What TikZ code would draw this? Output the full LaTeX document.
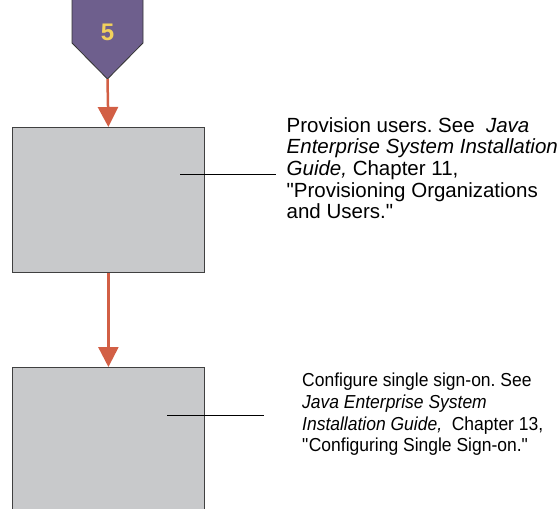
\documentclass[tikz,border=0pt]{standalone}
\usepackage{fontspec}
\setmainfont{Liberation Sans}
\newfontfamily\notecondensed{Liberation Sans}[FakeStretch=0.93,ItalicFeatures={FakeStretch=0.93}]
\usetikzlibrary{arrows.meta}
\definecolor{stepviolet}{HTML}{6E5F8D}
\definecolor{stepgold}{HTML}{F2D15C}
\definecolor{flowred}{HTML}{D25F45}
\definecolor{boxgray}{HTML}{C8C9CB}
\tikzset{
  taskbox/.style={draw=black!75,fill=boxgray,line width=.8pt,minimum width=192pt,anchor=north west},
  flow/.style={flowred,line width=2.5pt,-{Triangle[width=20pt,length=20pt]}},
  leader/.style={black,line width=.8pt},
  note/.style={anchor=north west,inner sep=0pt,align=left},
}
\begin{document}
\begin{tikzpicture}[x=1pt,y=-1pt]
  \useasboundingbox (0,0) rectangle (560,509);
  % step marker
  \draw[fill=stepviolet,draw=black!80,line width=.8pt] (72,-1) -- (143,-1) -- (143,43)
    -- (107.5,79) coordinate (steptip) -- (72,43) -- cycle;
  \node[text=stepgold,font=\fontsize{24}{24}\bfseries\selectfont] (stepno) at (107.5,32) {5};
  % tasks
  \node[taskbox,minimum height=145pt] (provision) at (12,127) {};
  \node[taskbox,minimum height=150pt] (signon) at (12,367) {};
  \draw[flow] (steptip) -- (provision.north);
  \draw[flow] (provision.south) -- (signon.north);
  % notes
  \node[note,font=\fontsize{20.5}{21.7}\selectfont\frenchspacing] (provisionnote) at (286.5,117)
    {Provision users. See~ \textit{Java}\\
    \textit{Enterprise System Installation}\\
    \textit{Guide,} Chapter 11,\\
    \textquotedbl Provisioning Organizations\\
    and Users.\textquotedbl};
  \node[note,font=\notecondensed\fontsize{18.8}{21.7}\selectfont\frenchspacing] (signonnote) at (302,373)
    {Configure single sign-on. See\\
    \textit{Java Enterprise System}\\
    \textit{Installation Guide,}~ Chapter 13,\\
    \textquotedbl Configuring Single Sign-on.\textquotedbl};
  \coordinate (provisionin) at (180,174);
  \coordinate (provisionout) at (276,174);
  \coordinate (signonin) at (167,415);
  \coordinate (signonout) at (264,415);
  \draw[leader] (provisionin) -- (provisionout);
  \draw[leader] (signonin) -- (signonout);
\end{tikzpicture}
\end{document}
